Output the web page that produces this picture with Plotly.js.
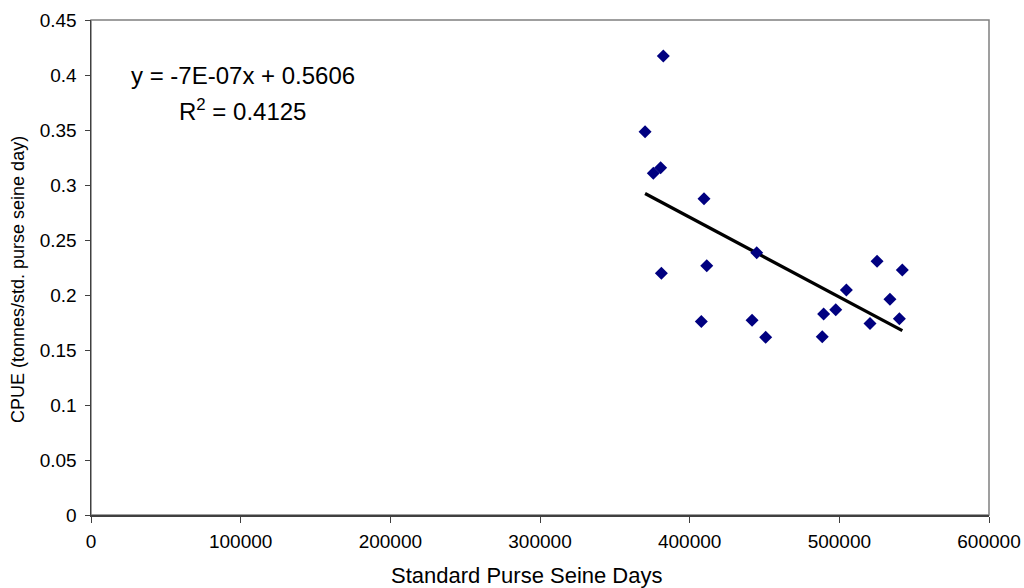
<!DOCTYPE html>
<html>
<head>
<meta charset="utf-8">
<script src="https://cdn.plot.ly/plotly-3.0.1.min.js"></script>
<style>
html,body{margin:0;padding:0;background:#fff;}
#chart{width:1024px;height:588px;}
</style>
</head>
<body>
<div id="chart"></div>
<script>
// Standard purse seine days (x) and CPUE (y)
const effortDays = [382400, 370200, 380600, 375700, 409600, 444800, 381100, 411400, 407800, 441700,
                    450800, 525200, 542100, 504700, 533800, 497600, 489500, 540100, 520500, 488600];
const cpue       = [0.4173, 0.3485, 0.3157, 0.3106, 0.2876, 0.2385, 0.2197, 0.2267, 0.1758, 0.1770,
                    0.1615, 0.2306, 0.2227, 0.2045, 0.1961, 0.1866, 0.1827, 0.1785, 0.1742, 0.1621];
const xTickVals = [0, 100000, 200000, 300000, 400000, 500000, 600000];
const yTickVals = [0, 0.05, 0.1, 0.15, 0.2, 0.25, 0.3, 0.35, 0.4, 0.45];
const yTickText = ['0', '0.05', '0.1', '0.15', '0.2', '0.25', '0.3', '0.35', '0.4', '0.45'];
const xTitle = 'Standard Purse Seine Days';
const yTitle = 'CPUE (tonnes/std. purse seine day)';
const equationText = 'y = -7E-07x + 0.5606';
const r2Text = 'R<sup>2</sup> = 0.4125';

// least-squares trendline computed from the data
const n = effortDays.length;
const mx = effortDays.reduce((a, b) => a + b, 0) / n;
const my = cpue.reduce((a, b) => a + b, 0) / n;
let sxy = 0, sxx = 0;
for (let i = 0; i < n; i++) { sxy += (effortDays[i] - mx) * (cpue[i] - my); sxx += (effortDays[i] - mx) ** 2; }
const slope = sxy / sxx, intercept = my - slope * mx;
const xMin = Math.min(...effortDays), xMax = Math.max(...effortDays);
const trendX = [xMin, xMax];
const trendY = trendX.map(v => intercept + slope * v);

const font = 'Liberation Sans, Arial, sans-serif';

const traces = [
  {x: trendX, y: trendY, mode: 'lines', type: 'scatter',
   line: {color: '#000000', width: 3.2}, hoverinfo: 'skip', showlegend: false},
  {x: effortDays, y: cpue, mode: 'markers', type: 'scatter',
   marker: {symbol: 'diamond', size: 10, color: '#000080', line: {width: 0}}, showlegend: false}
];

const layout = {
  width: 1024, height: 588,
  margin: {l: 91, r: 35, t: 20, b: 73, pad: 0},
  paper_bgcolor: '#ffffff', plot_bgcolor: '#ffffff',
  font: {family: font, color: '#000000', size: 19},
  showlegend: false,
  xaxis: {
    range: [0, 600000], tickvals: xTickVals, ticktext: xTickVals.map(String),
    showgrid: false, zeroline: false, showline: true, linecolor: '#404040', linewidth: 1.5,
    ticks: 'outside', ticklen: 6, tickcolor: '#404040', tickwidth: 1,
    ticklabelstandoff: 3,
    tickfont: {family: font, size: 19}
  },
  yaxis: {
    range: [0, 0.45], tickvals: yTickVals, ticktext: yTickText,
    showgrid: false, zeroline: false, showline: true, linecolor: '#404040', linewidth: 1.5,
    ticks: 'outside', ticklen: 5, tickcolor: '#404040', tickwidth: 1,
    ticklabelstandoff: 4,
    tickfont: {family: font, size: 19}
  },
  shapes: [
    {type: 'rect', xref: 'paper', yref: 'paper', x0: 0, x1: 1, y0: 0, y1: 1,
     line: {color: '#808080', width: 1.5}, layer: 'below'}
  ],
  annotations: [
    {x: 101500, y: 0.400, xref: 'x', yref: 'y', text: equationText, showarrow: false,
     font: {family: font, size: 24}, xanchor: 'center', yanchor: 'middle'},
    {x: 101500, y: 0.368, xref: 'x', yref: 'y', text: r2Text, showarrow: false,
     font: {family: font, size: 24}, xanchor: 'center', yanchor: 'middle'},
    {x: (526.5 - 91) / 898, y: -(575 - 515) / 495, xref: 'paper', yref: 'paper', text: xTitle,
     showarrow: false, font: {family: font, size: 22}, xanchor: 'center', yanchor: 'middle'},
    {x: -(91 - 18) / 898, y: (515 - 280) / 495, xref: 'paper', yref: 'paper', text: yTitle,
     showarrow: false, textangle: -90, font: {family: font, size: 18}, xanchor: 'center', yanchor: 'middle'}
  ]
};

Plotly.newPlot('chart', traces, layout, {displayModeBar: false, staticPlot: true});
</script>
</body>
</html>
